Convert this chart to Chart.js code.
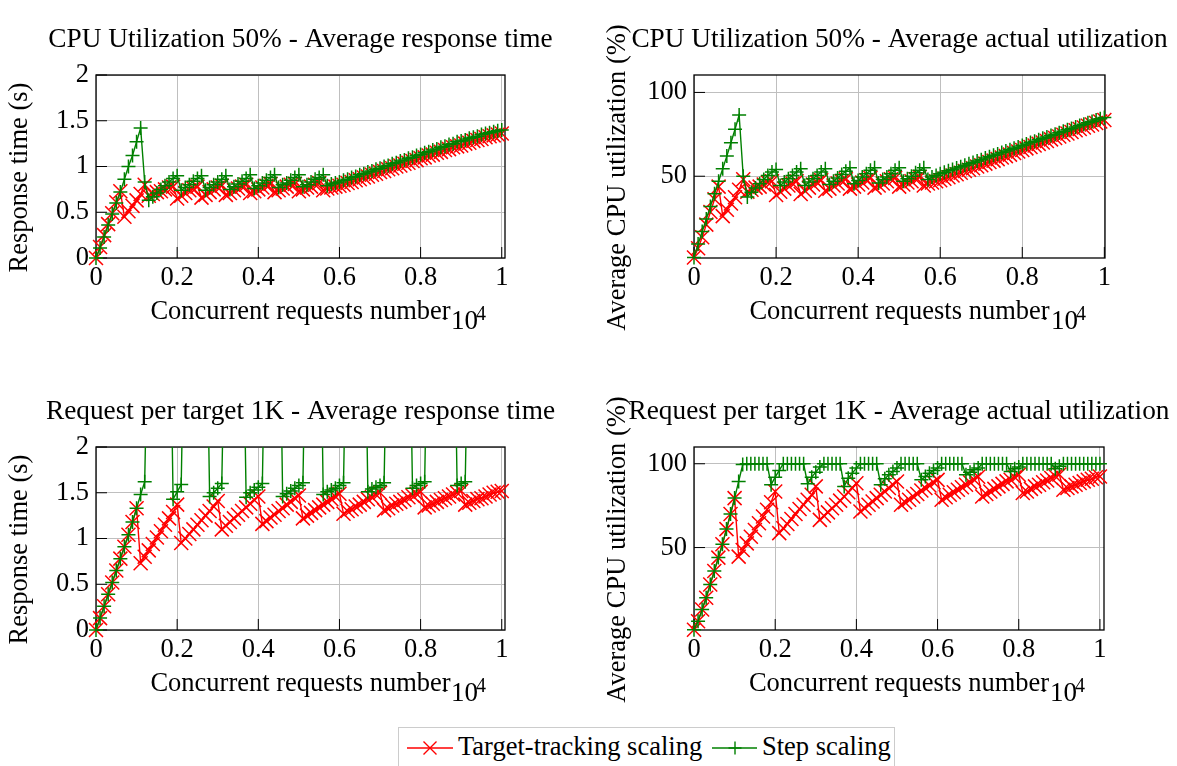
<!DOCTYPE html>
<html>
<head>
<meta charset="utf-8">
<script src="https://cdn.jsdelivr.net/npm/chart.js@4.4.0/dist/chart.umd.min.js"></script>
<style>
html, body { margin: 0; padding: 0; background: #fff; overflow: hidden; }
#page { position: relative; width: 1177px; height: 766px; }
canvas { position: absolute; }
#legend { position: absolute; left: 398px; top: 727px; font-family: "Liberation Serif"; font-size: 26.5px; overflow: visible; }
</style>
</head>
<body>
<div id="page">
<canvas id="tl" width="588" height="345" style="left:0px;top:0px"></canvas>
<canvas id="tr" width="589" height="345" style="left:588px;top:0px"></canvas>
<canvas id="bl" width="588" height="345" style="left:0px;top:372px"></canvas>
<canvas id="br" width="589" height="345" style="left:588px;top:372px"></canvas>
<svg id="legend" width="500" height="39">
  <rect x="0.5" y="0.5" width="496" height="60" fill="none" stroke="#cccccc"/>
  <line x1="9" y1="21" x2="55" y2="21" stroke="#ff0000" stroke-width="1.4"/>
  <path d="M25.5 14.5 L38.5 27.5 M25.5 27.5 L38.5 14.5" stroke="#ff0000" stroke-width="1.4"/>
  <text x="60" y="28">Target-tracking scaling</text>
  <line x1="314" y1="21" x2="359" y2="21" stroke="#008000" stroke-width="1.4"/>
  <path d="M337 14.5 L337 27.5 M330.5 21 L343.5 21" stroke="#008000" stroke-width="1.4"/>
  <text x="364" y="28">Step scaling</text>
</svg>
</div>
<script>
// concurrent requests (x axis, shown in units of 10^4)
const requests = [
  0, 100, 200, 300, 400, 500, 600, 700, 800, 900,
  1000, 1100, 1200, 1300, 1400, 1500, 1600, 1700, 1800, 1900,
  2000, 2100, 2200, 2300, 2400, 2500, 2600, 2700, 2800, 2900,
  3000, 3100, 3200, 3300, 3400, 3500, 3600, 3700, 3800, 3900,
  4000, 4100, 4200, 4300, 4400, 4500, 4600, 4700, 4800, 4900,
  5000, 5100, 5200, 5300, 5400, 5500, 5600, 5700, 5800, 5900,
  6000, 6100, 6200, 6300, 6400, 6500, 6600, 6700, 6800, 6900,
  7000, 7100, 7200, 7300, 7400, 7500, 7600, 7700, 7800, 7900,
  8000, 8100, 8200, 8300, 8400, 8500, 8600, 8700, 8800, 8900,
  9000, 9100, 9200, 9300, 9400, 9500, 9600, 9700, 9800, 9900,
  10000
];
const xTicks = [0, 2000, 4000, 6000, 8000, 10000];
const respTicks = [0, 0.5, 1, 1.5, 2];
const utilTicks = [50, 100];

// CPU utilization 50% - response time (s)
const cpuRespTarget = [
  0.00, 0.12, 0.25, 0.37, 0.49, 0.61, 0.73, 0.45, 0.51, 0.57,
  0.63, 0.70, 0.80, 0.68, 0.70, 0.72, 0.73, 0.75, 0.77, 0.78,
  0.65, 0.68, 0.71, 0.74, 0.76, 0.78, 0.66, 0.69, 0.72, 0.75,
  0.77, 0.79, 0.69, 0.71, 0.74, 0.76, 0.78, 0.80, 0.71, 0.73,
  0.75, 0.77, 0.79, 0.81, 0.72, 0.74, 0.76, 0.78, 0.80, 0.81,
  0.73, 0.75, 0.77, 0.78, 0.80, 0.82, 0.74, 0.76, 0.77, 0.78,
  0.79, 0.80, 0.82, 0.83, 0.85, 0.86, 0.88, 0.89, 0.91, 0.92,
  0.94, 0.95, 0.97, 0.98, 1.00, 1.01, 1.03, 1.04, 1.06, 1.07,
  1.09, 1.10, 1.12, 1.13, 1.15, 1.16, 1.18, 1.19, 1.21, 1.22,
  1.23, 1.25, 1.26, 1.28, 1.29, 1.30, 1.32, 1.33, 1.34, 1.35,
  1.36
];
const cpuRespStep = [
  0.00, 0.11, 0.23, 0.36, 0.48, 0.60, 0.72, 0.86, 1.00, 1.12,
  1.27, 1.42, 0.83, 0.63, 0.67, 0.71, 0.75, 0.79, 0.83, 0.87,
  0.90, 0.74, 0.77, 0.80, 0.84, 0.87, 0.90, 0.74, 0.77, 0.80,
  0.83, 0.86, 0.90, 0.75, 0.78, 0.81, 0.84, 0.87, 0.91, 0.76,
  0.79, 0.82, 0.85, 0.88, 0.91, 0.77, 0.80, 0.82, 0.85, 0.88,
  0.91, 0.78, 0.80, 0.83, 0.86, 0.88, 0.91, 0.79, 0.81, 0.82,
  0.83, 0.85, 0.86, 0.88, 0.89, 0.91, 0.92, 0.94, 0.95, 0.97,
  0.98, 1.00, 1.01, 1.03, 1.04, 1.06, 1.07, 1.09, 1.10, 1.12,
  1.13, 1.15, 1.16, 1.18, 1.19, 1.21, 1.22, 1.24, 1.25, 1.27,
  1.28, 1.29, 1.31, 1.32, 1.33, 1.35, 1.36, 1.37, 1.38, 1.39,
  1.40
];

// CPU utilization 50% - actual utilization (%)
const cpuUtilTarget = [
  1.5, 7.0, 13.6, 21.1, 28.7, 36.3, 43.8, 26.2, 30.0, 33.7,
  37.5, 41.9, 48.2, 40.7, 41.9, 43.2, 43.8, 45.1, 46.3, 47.0,
  38.8, 40.7, 42.6, 44.5, 45.7, 47.0, 39.4, 41.3, 43.2, 45.1,
  46.3, 47.6, 41.3, 42.6, 44.5, 45.7, 47.0, 48.2, 42.6, 43.8,
  45.1, 46.3, 47.6, 48.9, 43.2, 44.5, 45.7, 47.0, 48.2, 48.9,
  43.8, 45.1, 46.3, 47.0, 48.2, 49.5, 44.5, 45.7, 46.3, 47.0,
  47.6, 48.5, 49.4, 50.4, 51.2, 52.1, 53.1, 53.9, 54.8, 55.8,
  56.6, 57.5, 58.5, 59.3, 60.2, 61.2, 62.0, 62.9, 63.9, 64.7,
  65.6, 66.6, 67.4, 68.3, 69.3, 70.1, 71.0, 72.0, 72.8, 73.7,
  74.7, 75.5, 76.4, 77.4, 78.2, 79.1, 80.1, 80.9, 81.8, 82.7,
  83.5
];
const cpuUtilStep = [
  1.5, 9.5, 17.0, 24.5, 32.0, 39.5, 47.0, 54.5, 62.0, 70.0,
  78.0, 86.5, 50.0, 37.6, 40.5, 43.0, 45.5, 48.0, 50.5, 52.5,
  54.0, 44.5, 46.5, 48.5, 50.5, 52.5, 54.5, 44.5, 46.5, 48.5,
  50.5, 52.5, 54.5, 45.0, 47.0, 49.0, 51.0, 53.0, 55.0, 45.5,
  47.5, 49.5, 51.5, 53.5, 55.0, 46.0, 48.0, 49.5, 51.5, 53.5,
  55.0, 47.0, 48.5, 50.0, 52.0, 53.5, 55.0, 48.0, 49.5, 50.5,
  51.5, 52.3, 53.2, 54.0, 54.9, 55.7, 56.6, 57.4, 58.2, 59.1,
  59.9, 60.8, 61.6, 62.5, 63.3, 64.2, 65.0, 65.8, 66.7, 67.5,
  68.4, 69.2, 70.1, 70.9, 71.8, 72.6, 73.4, 74.3, 75.1, 76.0,
  76.8, 77.7, 78.5, 79.4, 80.2, 81.0, 81.9, 82.7, 83.5, 84.3,
  85.1
];

// Request per target 1K - response time (s)
const reqRespTarget = [
  0.00, 0.13, 0.26, 0.39, 0.52, 0.65, 0.78, 0.91, 1.04, 1.18,
  1.33, 0.73, 0.80, 0.87, 0.94, 1.01, 1.08, 1.15, 1.22, 1.29,
  1.37, 0.95, 1.00, 1.05, 1.10, 1.15, 1.20, 1.25, 1.30, 1.35,
  1.41, 1.10, 1.14, 1.18, 1.22, 1.26, 1.30, 1.34, 1.38, 1.42,
  1.46, 1.16, 1.19, 1.23, 1.26, 1.30, 1.33, 1.37, 1.40, 1.44,
  1.47, 1.22, 1.25, 1.28, 1.31, 1.34, 1.37, 1.40, 1.43, 1.46,
  1.49, 1.27, 1.30, 1.32, 1.35, 1.37, 1.40, 1.43, 1.45, 1.48,
  1.50, 1.31, 1.33, 1.36, 1.38, 1.40, 1.42, 1.45, 1.47, 1.49,
  1.51, 1.34, 1.36, 1.38, 1.40, 1.42, 1.44, 1.46, 1.48, 1.50,
  1.52, 1.37, 1.39, 1.41, 1.43, 1.44, 1.46, 1.48, 1.50, 1.51,
  1.52
];
const reqRespStep = [
  0.00, 0.13, 0.26, 0.39, 0.52, 0.65, 0.78, 0.91, 1.04, 1.18,
  1.33, 1.48, 1.62, 3.9, 4.6, 5.3, 5.6, 5.2, 4.4, 1.43,
  1.51, 1.59, 4.1, 4.8, 5.5, 5.7, 5.1, 4.3, 1.46, 1.50,
  1.55, 1.60, 4.0, 4.9, 5.4, 5.0, 4.2, 1.45, 1.50, 1.53,
  1.56, 1.60, 4.2, 5.1, 5.3, 4.5, 1.46, 1.49, 1.52, 1.55,
  1.58, 1.61, 4.3, 5.0, 5.4, 4.6, 1.48, 1.51, 1.53, 1.55,
  1.58, 1.61, 4.1, 4.9, 5.5, 5.2, 4.4, 1.51, 1.54, 1.56,
  1.58, 1.61, 4.0, 4.7, 5.3, 5.6, 5.1, 4.3, 1.55, 1.58,
  1.60, 1.62, 4.2, 4.8, 5.4, 5.8, 5.5, 5.0, 4.4, 1.58,
  1.60, 1.62, 4.1, 4.7, 5.2, 5.6, 5.9, 6.1, 6.2, 6.4,
  6.5
];

// Request per target 1K - actual utilization (%)
const reqUtilTarget = [
  1.0, 6.0, 13.0, 20.0, 28.0, 36.0, 44.0, 52.0, 61.0, 70.0,
  79.5, 44.6, 48.5, 52.5, 56.5, 60.5, 64.5, 68.5, 72.5, 77.0,
  83.5, 58.6, 61.5, 64.0, 67.0, 70.0, 73.0, 75.5, 78.5, 81.5,
  86.5, 66.5, 69.0, 71.0, 73.5, 75.5, 78.0, 80.5, 83.0, 85.5,
  88.4, 71.5, 73.5, 75.5, 77.5, 79.5, 81.5, 83.5, 85.5, 87.5,
  89.4, 75.5, 77.0, 78.5, 80.5, 82.0, 84.0, 85.5, 87.0, 89.0,
  90.4, 78.5, 80.0, 81.5, 83.0, 84.5, 86.0, 87.5, 89.0, 90.5,
  92.2, 80.5, 82.0, 83.5, 85.0, 86.5, 88.0, 89.5, 90.5, 92.0,
  93.4, 82.5, 83.5, 85.0, 86.5, 87.5, 89.0, 90.0, 91.5, 92.5,
  93.6, 84.5, 85.5, 86.5, 87.5, 88.5, 89.5, 90.5, 91.0, 92.0,
  92.4
];
const reqUtilStep = [
  1.0, 6.0, 13.0, 20.0, 28.0, 36.0, 44.0, 52.0, 61.0, 70.0,
  79.5, 89.4, 99.5, 100, 100, 100, 100, 100, 100, 87.5,
  92.0, 96.0, 100, 100, 100, 100, 100, 100, 88.0, 92.0,
  95.0, 98.0, 100, 100, 100, 100, 100, 86.5, 91.4, 94.4,
  97.4, 100, 100, 100, 100, 100, 87.5, 91.0, 93.4, 95.4,
  97.4, 100, 100, 100, 100, 100, 90.4, 92.4, 94.4, 96.0,
  97.4, 100, 100, 100, 100, 100, 100, 93.4, 95.0, 96.4,
  97.4, 100, 100, 100, 100, 100, 100, 100, 95.4, 97.0,
  98.0, 100, 100, 100, 100, 100, 100, 100, 100, 97.0,
  98.5, 100, 100, 100, 100, 100, 100, 100, 100, 100,
  100
];

const RED = '#ff0000';
const GREEN = '#008000';
const FONT = 'Liberation Serif';
const FS = 26.5;

Chart.defaults.font.family = FONT;
Chart.defaults.font.size = FS;
Chart.defaults.color = '#000';

// frame, inward ticks, titles and the 10^4 scale label
const panelText = {
  id: 'panelText',
  beforeDatasetsDraw(chart) {
    const {ctx, chartArea: a, scales: {x, y}} = chart;
    ctx.save();
    ctx.strokeStyle = '#000';
    ctx.lineWidth = 1;
    ctx.beginPath();
    y.ticks.forEach(t => {
      const py = y.getPixelForValue(t.value);
      ctx.moveTo(a.left, py); ctx.lineTo(a.left + 11, py);
    });
    x.ticks.forEach(t => {
      const px = x.getPixelForValue(t.value);
      ctx.moveTo(px, a.bottom); ctx.lineTo(px, a.bottom - 11);
    });
    ctx.stroke();
    ctx.lineWidth = 1.3;
    ctx.strokeRect(a.left, a.top, a.right - a.left, a.bottom - a.top);
    ctx.restore();
  },
  afterDraw(chart, args, opts) {
    const {ctx, chartArea: a} = chart;
    ctx.save();
    ctx.fillStyle = '#000';
    ctx.textBaseline = 'alphabetic';
    ctx.textAlign = 'center';
    ctx.font = '27.3px "' + FONT + '"';
    ctx.fillText(opts.title, (a.left + a.right) / 2, a.top - 28);
    ctx.font = FS + 'px "' + FONT + '"';
    ctx.save();
    ctx.translate(a.left - 69, (a.top + a.bottom) / 2 + 11);
    ctx.rotate(-Math.PI / 2);
    ctx.fillText(opts.yLabel, 0, 0);
    ctx.restore();
    ctx.fillText('\u00b7', a.right - 60, a.bottom + 70);
    ctx.textAlign = 'left';
    ctx.font = '27px "' + FONT + '"';
    ctx.fillText('10', a.right - 54, a.bottom + 71);
    ctx.font = '20px "' + FONT + '"';
    ctx.fillText('4', a.right - 29, a.bottom + 62);
    ctx.restore();
  }
};

function series(label, data, color, style, radius, order) {
  return {
    label, data, order,
    borderColor: color, backgroundColor: color, borderWidth: 1.4,
    pointStyle: style, pointRadius: radius, pointBorderWidth: 1.5,
    pointBorderColor: color, pointHoverRadius: radius,
    tension: 0,
    clip: {left: 14, right: 14, top: 0, bottom: 14}
  };
}

function panel(id, cfg) {
  return new Chart(document.getElementById(id), {
    type: 'line',
    data: {
      labels: requests,
      datasets: [
        series('Target-tracking scaling', cfg.red, RED, 'crossRot', 9.9, 2),
        series('Step scaling', cfg.green, GREEN, 'cross', 7, 1)
      ]
    },
    options: {
      responsive: false,
      animation: false,
      events: [],
      layout: {autoPadding: false, padding: {top: 75, right: cfg.padRight, left: 0, bottom: 0}},
      plugins: {
        legend: {display: false},
        tooltip: {enabled: false},
        panelText: {title: cfg.title, yLabel: cfg.yLabel}
      },
      scales: {
        x: {
          type: 'linear', min: 0, max: cfg.xMax,
          afterBuildTicks: s => { s.ticks = xTicks.map(v => ({value: v})); },
          afterFit: s => { s.height = 87; s.paddingLeft = 0; s.paddingRight = 0; },
          ticks: {callback: v => String(v / 10000), padding: 4, maxRotation: 0, autoSkip: false},
          grid: {color: '#bfbfbf', lineWidth: 1, drawTicks: false},
          border: {display: false},
          title: {display: true, text: 'Concurrent requests number', padding: {top: 0, bottom: 17}}
        },
        y: {
          type: 'linear', min: cfg.yMin, max: cfg.yMax,
          afterBuildTicks: s => { s.ticks = cfg.yTicks.map(v => ({value: v})); },
          afterFit: s => { s.width = cfg.yWidth; s.paddingTop = 0; s.paddingBottom = 0; },
          ticks: {callback: v => String(v), padding: 7, autoSkip: false},
          grid: {color: '#bfbfbf', lineWidth: 1, drawTicks: false},
          border: {display: false}
        }
      }
    },
    plugins: [panelText]
  });
}

panel('tl', {
  title: 'CPU Utilization 50% - Average response time', yLabel: 'Response time (s)',
  red: cpuRespTarget, green: cpuRespStep, yMin: 0, yMax: 2, yTicks: respTicks,
  xMax: 10080, yWidth: 96, padRight: 83
});
panel('tr', {
  title: 'CPU Utilization 50% - Average actual utilization', yLabel: 'Average CPU utilization (%)',
  red: cpuUtilTarget, green: cpuUtilStep, yMin: 1.2, yMax: 110.4, yTicks: utilTicks,
  xMax: 10016, yWidth: 106, padRight: 72
});
panel('bl', {
  title: 'Request per target 1K - Average response time', yLabel: 'Response time (s)',
  red: reqRespTarget, green: reqRespStep, yMin: 0, yMax: 2, yTicks: respTicks,
  xMax: 10080, yWidth: 96, padRight: 83
});
panel('br', {
  title: 'Request per target 1K - Average actual utilization', yLabel: 'Average CPU utilization (%)',
  red: reqUtilTarget, green: reqUtilStep, yMin: 0.8, yMax: 110, yTicks: utilTicks,
  xMax: 10100, yWidth: 106, padRight: 73
});
</script>
</body>
</html>
